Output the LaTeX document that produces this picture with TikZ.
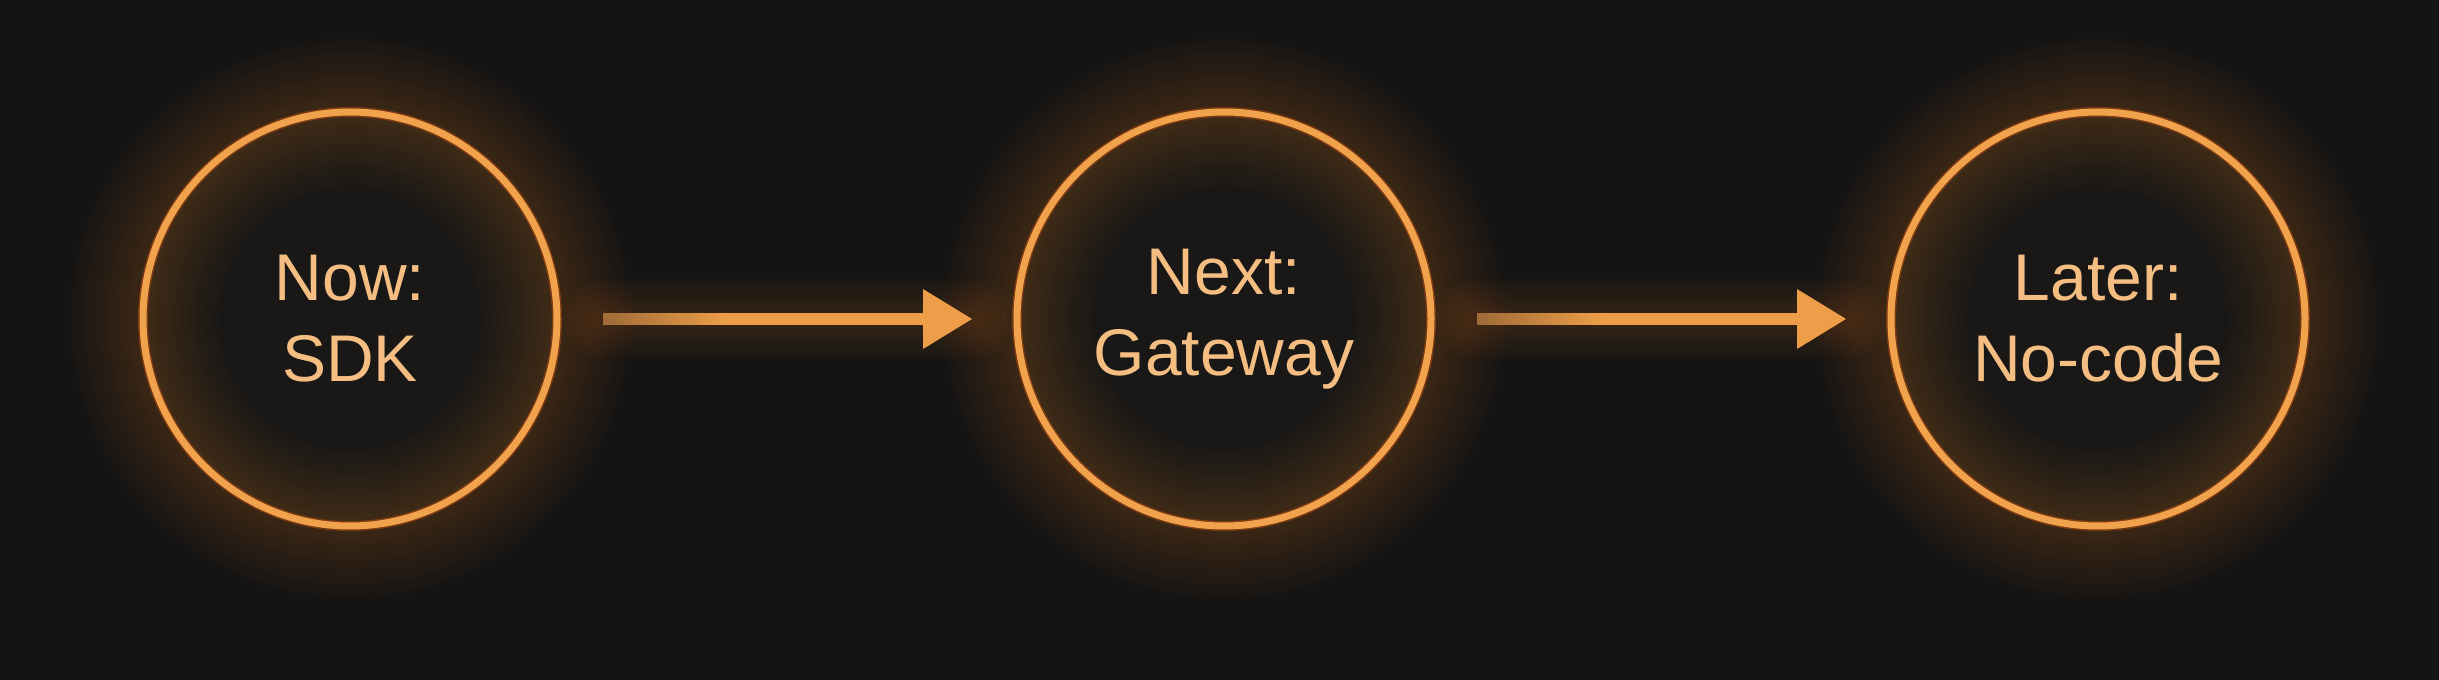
\documentclass[tikz,border=0pt]{standalone}
\usepackage{fontspec}
\setmainfont{Liberation Sans}
\usetikzlibrary{calc}
\definecolor{bg}{HTML}{141414}
\definecolor{ring}{HTML}{F0A24C}
\definecolor{ringedge}{HTML}{8A3E12}
\definecolor{glow}{HTML}{D8781E}
\definecolor{txt}{HTML}{F4BE82}
\definecolor{inner}{HTML}{1A1816}
\definecolor{arrowc}{HTML}{EE9E48}
\definecolor{arrowdim}{HTML}{A06C38}
\begin{document}
\begin{tikzpicture}[x=1pt,y=1pt,
  stage/.style={circle, draw=ring, line width=7pt, minimum size=414pt, inner sep=0pt,
    outer sep=4pt, text=txt, align=center, font=\fontsize{66}{81}\selectfont},
  glowring/.style={draw=glow, opacity=0.016},
  glowline/.style={draw=glow, opacity=0.03, line cap=round}]
\fill[bg] (0,0) rectangle (2439,680);
\useasboundingbox (0,0) rectangle (2439,680);
% interiors and glow
\foreach \x in {350,1224,2098}{
  \fill[inner] (\x,361) circle (207pt);
  \foreach \w in {150,142,...,10}{
    \draw[glowring, line width=\w pt] (\x,361) circle (207pt);
  }
  \draw[ringedge, line width=10pt, opacity=0.8] (\x,361) circle (207pt);
}
% stages
\node[stage] (c1) at (350,361) {Now:\\SDK};
\node[stage] (c2) at (1224,361) {Next:\\Gateway};
\node[stage] (c3) at (2098,361) {Later:\\No-code};
% connectors
\foreach \a/\b in {c1/c2, c2/c3}{
  \coordinate (s\a) at ($(\a.east)+(42,0)$);
  \coordinate (m\a) at ($(\a.east)+(170,0)$);
  \coordinate (h\a) at ($(\b.west)+(-90,0)$);
  \coordinate (t\a) at ($(\b.west)+(-41,0)$);
  \foreach \w in {80,68,...,20}{
    \draw[glowline, line width=\w pt] (s\a) -- (t\a);
  }
  \fill[arrowc] ($(m\a)+(-1,-6)$) rectangle ($(h\a)+(1,6)$);
  \foreach \i in {0,...,31}{
    \pgfmathtruncatemacro{\p}{100*\i/31}
    \fill[arrowc!\p!arrowdim] ($(s\a)!{\i/32}!(m\a)+(0,-6)$) rectangle ($(s\a)!{(\i+1.2)/32}!(m\a)+(0,6)$);
  }
  \fill[arrowc] ($(h\a)+(0,30)$) -- (t\a) -- ($(h\a)+(0,-30)$) -- cycle;
}
\end{tikzpicture}
\end{document}
